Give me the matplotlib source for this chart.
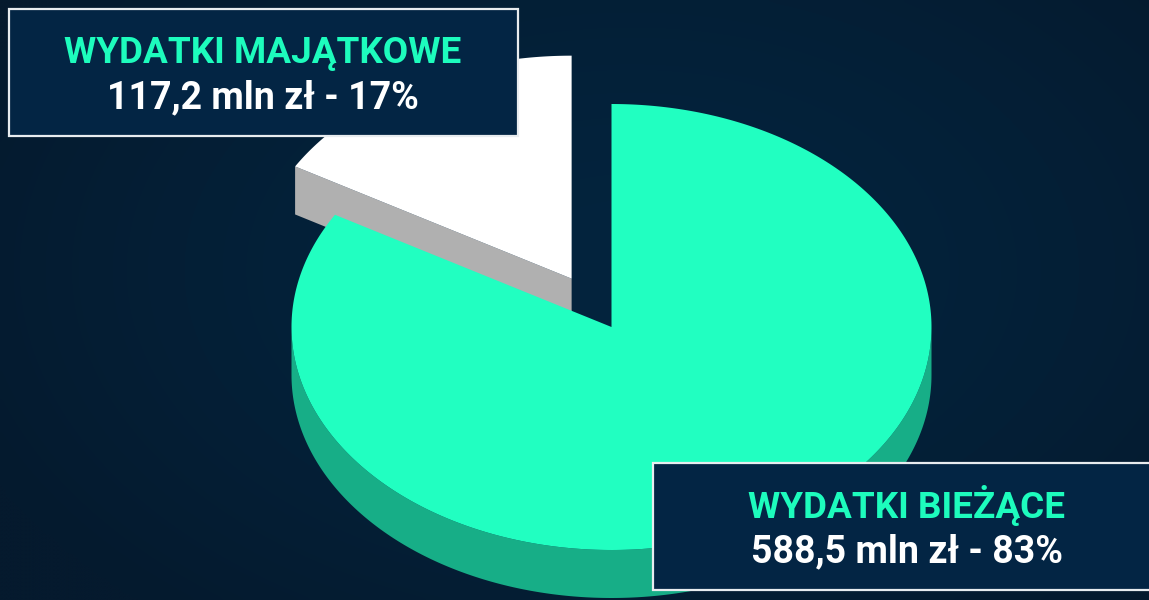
"""Exploded 3D-looking pie of budget spending, drawn in pixel coordinates."""

import numpy as np
import matplotlib
matplotlib.use("Agg")
import matplotlib.pyplot as plt
from matplotlib.patches import Rectangle

# data
names = ["WYDATKI BIEŻĄCE", "WYDATKI MAJĄTKOWE"]
values = [588.5, 117.2]
value_labels = ["588,5 mln zł - 83%", "117,2 mln zł - 17%"]

GREEN = "#21ffc1"
GREEN_SIDE = "#17ae87"
WHITE_SIDE = "#b0b0b0"
BOX_FILL = "#032544"
TITLE_GREEN = "#1dfcbd"

W, H = 1149, 600
CX, CY = 611.5, 327
RX, RY = 320, 223
DEPTH = 48
EXPLODE = 0.25

plt.rcParams["font.family"] = ["Roboto", "DejaVu Sans"]

fig = plt.figure(figsize=(W / 100, H / 100), dpi=100)
ax = fig.add_axes([0, 0, 1, 1])
ax.set_xlim(0, W)
ax.set_ylim(H, 0)
ax.axis("off")

# background, a soft glow around the middle
yy, xx = np.mgrid[0:1:150j, 0:1:288j]
dist = np.clip(np.hypot((xx - 0.55) / 0.62, (yy - 0.45) / 0.75), 0, 1)
inner = np.array([3, 36, 62]) / 255
outer = np.array([5, 26, 46]) / 255
bg = inner + (outer - inner) * dist[..., None] ** 1.5
ax.imshow(bg, extent=[0, W, H, 0], aspect="auto", zorder=0, interpolation="bicubic")


def ellipse(t, cx, cy):
    return cx + RX * np.cos(t), cy - RY * np.sin(t)


# slice angles come from the values, first slice goes clockwise from 12 o'clock
sweep = 2 * np.pi * values[0] / sum(values)
start = np.pi / 2
end = start - sweep  # green runs clockwise from here
t_green = np.linspace(start, end, 400)
t_white = np.linspace(end, start - 2 * np.pi, 120)

# green side wall, only the front half of the rim shows
t_front = np.linspace(np.pi, 2 * np.pi, 300)
x_front, y_front = ellipse(t_front, CX, CY)
ax.fill(np.r_[x_front, x_front[::-1]], np.r_[y_front, y_front[::-1] + DEPTH],
        color=GREEN_SIDE, lw=0, zorder=4)

# white slice, pulled out along its middle angle
mid = (t_white[0] + t_white[-1]) / 2
wx = CX + EXPLODE * RX * np.cos(mid)
wy = CY - EXPLODE * RY * np.sin(mid)
x_arc, y_arc = ellipse(t_white, wx, wy)
ax.fill([x_arc[0], wx, wx, x_arc[0]], [y_arc[0], wy, wy + DEPTH, y_arc[0] + DEPTH],
        color=WHITE_SIDE, lw=0, zorder=2)
ax.fill(np.r_[wx, x_arc], np.r_[wy, y_arc], color="white", lw=0, zorder=3)

# green slice on top
x_arc, y_arc = ellipse(t_green, CX, CY)
ax.fill(np.r_[CX, x_arc], np.r_[CY, y_arc], color=GREEN, lw=0, zorder=5)

# label boxes
boxes = [(652.5, 462.5, 520, 127), (8.5, 8.5, 509.5, 127)]
title_y = [518, 63]
value_y = [562, 108]
text_x = [907, 263]
for i in range(2):
    bx, by, bw, bh = boxes[i]
    ax.add_patch(Rectangle((bx, by), bw, bh, fc=BOX_FILL, ec="#e8ecef", lw=1.6, zorder=6))
    ax.text(text_x[i], title_y[i], names[i], color=TITLE_GREEN, fontsize=26.6,
            fontweight="bold", ha="center", va="baseline", zorder=7)
    ax.text(text_x[i], value_y[i], value_labels[i], color="white", fontsize=27,
            fontweight="bold", ha="center", va="baseline", zorder=7)

fig.savefig("out.png", dpi=100)
